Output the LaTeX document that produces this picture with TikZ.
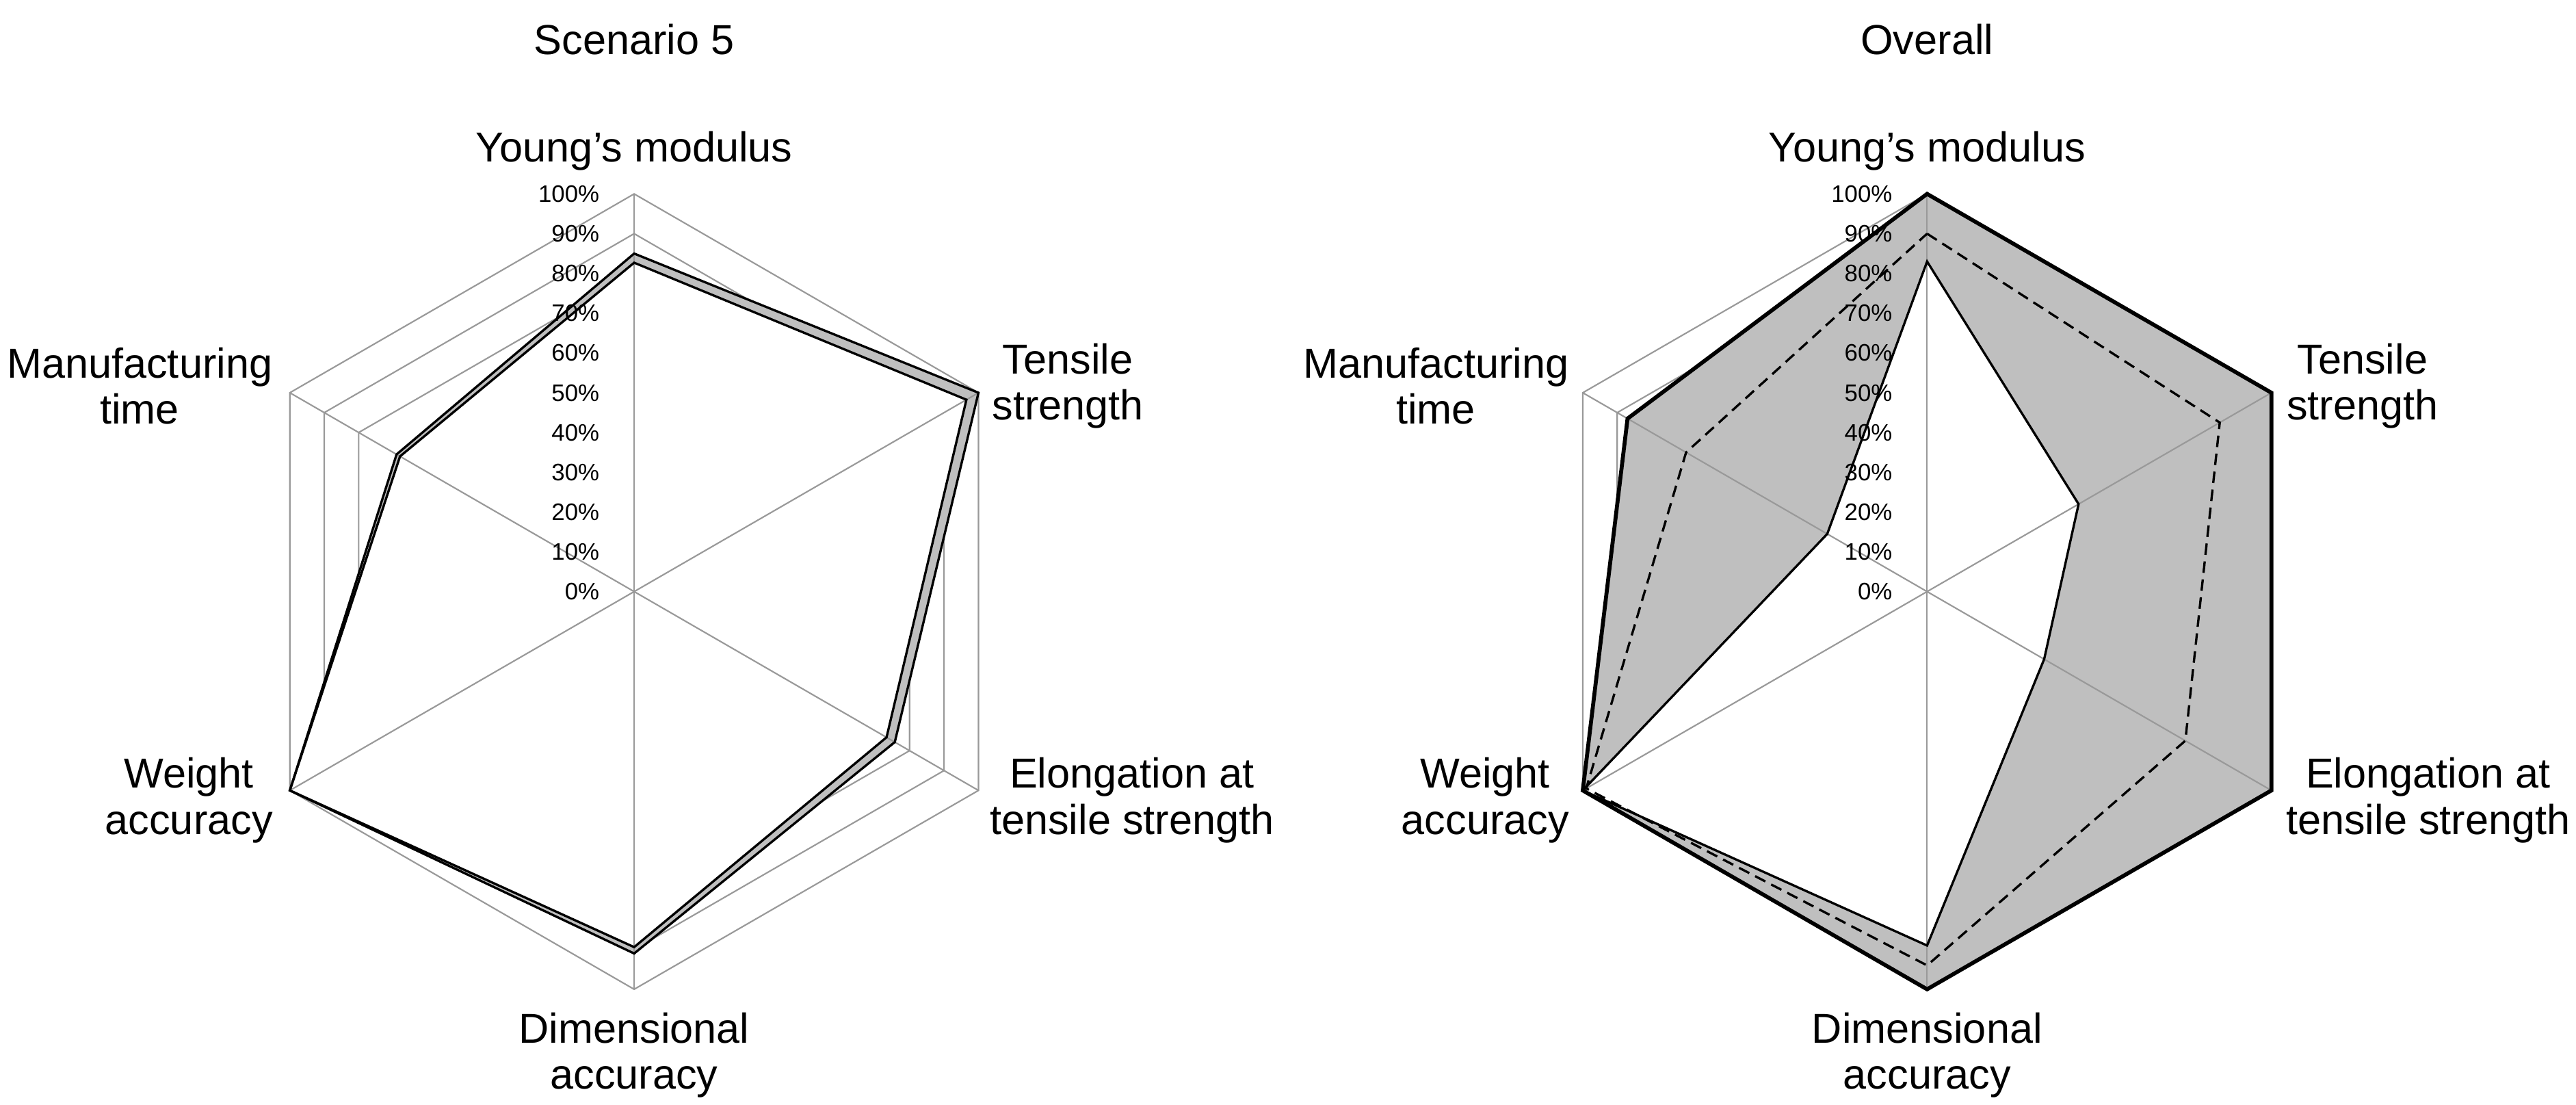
\documentclass[tikz,border=0pt]{standalone}
\usepackage{fontspec}
\setmainfont{Liberation Sans}
\begin{document}
\begin{tikzpicture}[x=1pt,y=1pt,
  grid/.style={draw=black!40,line width=0.9pt},
  series/.style={draw=black,line width=1.4pt,line join=miter},
  lbl/.style={font=\fontsize{25.5}{28}\selectfont,align=center,inner sep=0pt},
  pct/.style={font=\fontsize{14.5}{16}\selectfont,anchor=east,inner sep=0pt},
  ttl/.style={font=\fontsize{25.5}{28}\selectfont,inner sep=0pt}]
\def\RR{242}
\fill[white] (0,0) rectangle (1568,672);
\useasboundingbox (0,0) rectangle (1568,672);
% generic polygon macro: values for Y,T,E,D,W,M
\newcommand\radarpoly[7][]{%
  \path[#1] (90:{#2*\RR}) -- (30:{#3*\RR}) -- (-30:{#4*\RR}) -- (-90:{#5*\RR}) -- (210:{#6*\RR}) -- (150:{#7*\RR}) -- cycle;}
\newcommand\axes{%
  \foreach \f in {0.8,0.9,1.0} {\radarpoly[grid]{\f}{\f}{\f}{\f}{\f}{\f}}}
\newcommand\spokes{%
  \foreach \a in {90,30,-30,-90,210,150} {\draw[grid] (0,0) -- (\a:\RR);}}
\newcommand\pcts[1]{%
  \foreach \k in {0,...,10} {\node[pct] (#1p\k) at (-21,{\k*\RR/10}) {\pgfmathparse{int(\k*10)}\pgfmathresult\%};}}
% ---------------- Left: Scenario 5
\begin{scope}[shift={(386,312)}]
  \axes
  \radarpoly[fill=black!25]{0.85}{1.0}{0.757}{0.91}{1.0}{0.69}
  \radarpoly[fill=white]{0.827}{0.965}{0.733}{0.894}{1.0}{0.68}
  \spokes
  \radarpoly[series]{0.85}{1.0}{0.757}{0.91}{1.0}{0.69}
  \radarpoly[series]{0.827}{0.965}{0.733}{0.894}{1.0}{0.68}
  \pcts{L}
  \node[ttl] (Ltitle) at (0,336) {Scenario 5};
  \node[lbl] (LY) at (0,268) {Young's modulus};
  \node[lbl] (LT) at (264,125) {Tensile\\strength};
  \node[lbl] (LE) at (303,-127) {Elongation at\\tensile strength};
  \node[lbl] (LD) at (0,-282) {Dimensional\\accuracy};
  \node[lbl] (LW) at (-271,-127) {Weight\\accuracy};
  \node[lbl] (LM) at (-301,125) {Manufacturing\\time};
\end{scope}
% ---------------- Right: Overall
\begin{scope}[shift={(1173,312)}]
  \axes
  \radarpoly[fill=black!25]{1}{1}{1}{1}{1}{0.87}
  \radarpoly[fill=white]{0.83}{0.44}{0.34}{0.89}{1}{0.29}
  \spokes
  \radarpoly[series,line width=2.4pt]{1}{1}{1}{1}{1}{0.87}
  \radarpoly[series,dash pattern=on 7pt off 4pt]{0.9}{0.85}{0.75}{0.94}{0.99}{0.70}
  \radarpoly[series]{0.83}{0.44}{0.34}{0.89}{1}{0.29}
  \pcts{R}
  \node[ttl] (Rtitle) at (0,336) {Overall};
  \node[lbl] (RY) at (0,268) {Young's modulus};
  \node[lbl] (RT) at (265,125) {Tensile\\strength};
  \node[lbl] (RE) at (305,-127) {Elongation at\\tensile strength};
  \node[lbl] (RD) at (0,-282) {Dimensional\\accuracy};
  \node[lbl] (RW) at (-269,-127) {Weight\\accuracy};
  \node[lbl] (RM) at (-299,125) {Manufacturing\\time};
\end{scope}
\end{tikzpicture}
\end{document}
